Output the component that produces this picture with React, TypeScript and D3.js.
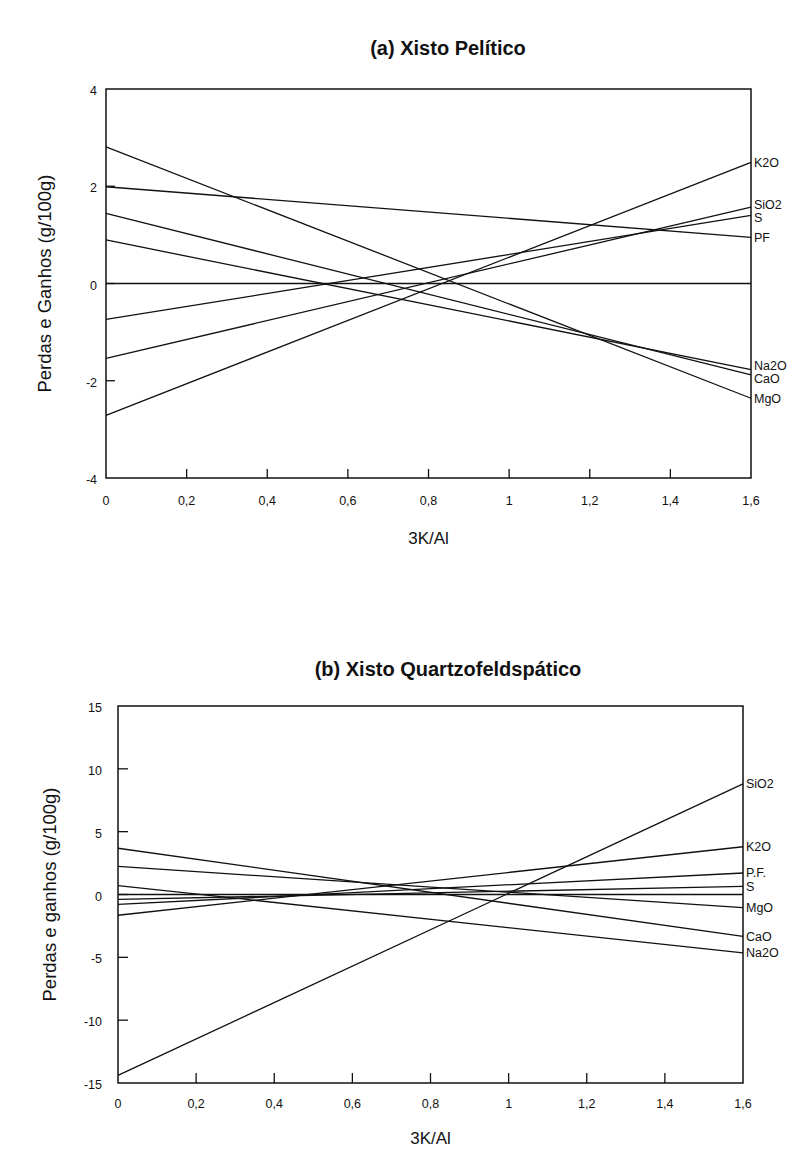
import React from "react";
import * as d3 from "d3";

// ---------- shared x axis ----------
const xTicks = [0, 0.2, 0.4, 0.6, 0.8, 1, 1.2, 1.4, 1.6];
const xTickLabels = ["0", "0,2", "0,4", "0,6", "0,8", "1", "1,2", "1,4", "1,6"];
const xTitle = "3K/Al";

// ---------- (a) Xisto Pelítico ----------
const titleA = "(a) Xisto Pelítico";
const yTitleA = "Perdas e Ganhos (g/100g)";
const yTicksA = [-4, -2, 0, 2, 4];
const seriesA = ["K2O", "SiO2", "S", "PF", "Na2O", "CaO", "MgO"];
const startA = [-2.71, -1.54, -0.74, 1.99, 0.895, 1.44, 2.81];
const endA = [2.49, 1.57, 1.4, 0.95, -1.77, -1.88, -2.36];

// ---------- (b) Xisto Quartzofeldspático ----------
const titleB = "(b) Xisto Quartzofeldspático";
const yTitleB = "Perdas e ganhos (g/100g)";
const yTicksB = [-15, -10, -5, 0, 5, 10, 15];
const seriesB = ["SiO2", "K2O", "P.F.", "S", "MgO", "CaO", "Na2O"];
const startB = [-14.4, -1.65, -0.79, -0.39, 2.23, 3.68, 0.71];
const endB = [8.8, 3.8, 1.71, 0.65, -1.05, -3.33, -4.65];

const INK = "#111";
const SANS = "'Liberation Sans', Arial, sans-serif";

function spread(ys: number[], gap: number): number[] {
  const idx = ys.map((_, i) => i).sort((a, b) => ys[a] - ys[b]);
  const out = ys.slice();
  for (let it = 0; it < 100; it++) {
    let moved = false;
    for (let k = 0; k < idx.length - 1; k++) {
      const a = idx[k], b = idx[k + 1];
      const d = out[b] - out[a];
      if (d < gap) {
        const s = (gap - d) / 2;
        out[a] -= s;
        out[b] += s;
        moved = true;
      }
    }
    if (!moved) break;
  }
  return out;
}

type PanelProps = {
  left: number; top: number; right: number; bottom: number;
  yDomain: [number, number]; yTicks: number[]; tickLen: number;
  title: string; titleY: number; yTitle: string; yTitleX: number;
  xTickY: number; xTitleY: number; yTickX: number;
  names: string[]; starts: number[]; ends: number[]; labelGap: number;
};

function Panel(p: PanelProps) {
  const x = d3.scaleLinear().domain([0, 1.6]).range([p.left, p.right]);
  const y = d3.scaleLinear().domain(p.yDomain).range([p.bottom, p.top]);
  const line = d3.line<[number, number]>().x(d => x(d[0])).y(d => y(d[1]));
  const labelYs = spread(p.ends.map(v => y(v)), p.labelGap);
  const cx = (p.left + p.right) / 2;
  return (
    <g>
      <text x={448} y={p.titleY} textAnchor="middle" fontFamily={SANS} fontWeight="bold" fontSize={20} fill={INK}>{p.title}</text>
      <rect x={p.left} y={p.top} width={p.right - p.left} height={p.bottom - p.top} fill="none" stroke={INK} strokeWidth={1.5} />
      {xTicks.map((t, i) => (
        <g key={"xt" + i}>
          {i > 0 && i < xTicks.length - 1 && (
            <line x1={x(t)} x2={x(t)} y1={p.bottom} y2={p.bottom - p.tickLen} stroke={INK} strokeWidth={1.3} />
          )}
          <text x={x(t)} y={p.xTickY} textAnchor="middle" fontFamily={SANS} fontSize={12.5} fill={INK}>{xTickLabels[i]}</text>
        </g>
      ))}
      {p.yTicks.map((t, i) => (
        <g key={"yt" + i}>
          {i > 0 && i < p.yTicks.length - 1 && (
            <line x1={p.left} x2={p.left + p.tickLen} y1={y(t)} y2={y(t)} stroke={INK} strokeWidth={1.3} />
          )}
          <text x={p.yTickX} y={y(t) + 6} textAnchor="end" fontFamily={SANS} fontSize={12.5} fill={INK}>{String(t)}</text>
        </g>
      ))}
      <line x1={x(0)} x2={x(1.6)} y1={y(0)} y2={y(0)} stroke={INK} strokeWidth={1.3} />
      {p.names.map((n, i) => (
        <path key={"l" + n} d={line([[0, p.starts[i]], [1.6, p.ends[i]]]) || ""} fill="none" stroke={INK} strokeWidth={1.3} />
      ))}
      {p.names.map((n, i) => (
        <text key={"lab" + n} x={p.right + 3} y={labelYs[i]} dy="0.35em" fontFamily={SANS} fontSize={12.5} fill={INK}>{n}</text>
      ))}
      <text x={cx} y={p.xTitleY} textAnchor="middle" fontFamily={SANS} fontSize={17} fill={INK}>{xTitle}</text>
      <text transform={`translate(${p.yTitleX},${(p.top + p.bottom) / 2}) rotate(-90)`} textAnchor="middle" fontFamily={SANS} fontSize={18.5} fill={INK}>{p.yTitle}</text>
    </g>
  );
}

export default function App() {
  return (
    <svg width={795} height={1151} style={{ position: "absolute", left: 0, top: 0, background: "#fff" }}>
      <rect x={0} y={0} width={795} height={1151} fill="#fff" />
      <Panel left={106} top={89} right={751} bottom={478} yDomain={[-4, 4]} yTicks={yTicksA} tickLen={9}
        title={titleA} titleY={55} yTitle={yTitleA} yTitleX={51} xTickY={505} xTitleY={544} yTickX={97}
        names={seriesA} starts={startA} ends={endA} labelGap={13.5} />
      <Panel left={118} top={706} right={743} bottom={1083} yDomain={[-15, 15]} yTicks={yTicksB} tickLen={10}
        title={titleB} titleY={676} yTitle={yTitleB} yTitleX={56} xTickY={1108} xTitleY={1144} yTickX={102}
        names={seriesB} starts={startB} ends={endB} labelGap={13} />
    </svg>
  );
}
